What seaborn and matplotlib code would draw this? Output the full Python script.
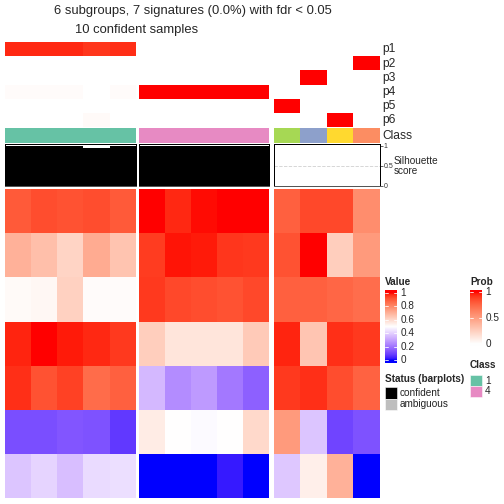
import numpy as np
import matplotlib
matplotlib.use("Agg")
import matplotlib.pyplot as plt
import seaborn as sns
from matplotlib.colors import ListedColormap
from matplotlib.patches import Rectangle

sns.set_theme(style="white")
plt.rcParams['font.family'] = ['Liberation Sans', 'DejaVu Sans']

# ---------------- data ----------------
title_line1 = "6 subgroups, 7 signatures (0.0%) with fdr < 0.05"
title_line2 = "10 confident samples"
prob_labels = ["p1", "p2", "p3", "p4", "p5", "p6"]

value_g1 = [
    [0.90, 0.925, 0.915, 0.925, 0.90],
    [0.70, 0.665, 0.61, 0.715, 0.655],
    [0.515, 0.52, 0.62, 0.51, 0.51],
    [0.98, 1.0, 0.985, 0.975, 0.955],
    [0.965, 0.915, 0.945, 0.865, 0.89],
    [0.12, 0.12, 0.135, 0.125, 0.075],
    [0.375, 0.41, 0.36, 0.425, 0.43],
]
value_g2 = [
    [1.0, 0.975, 0.995, 0.997, 1.0],
    [0.95, 0.99, 0.985, 0.96, 0.955],
    [0.955, 0.93, 0.925, 0.915, 0.93],
    [0.625, 0.57, 0.57, 0.57, 0.64],
    [0.35, 0.25, 0.285, 0.21, 0.16],
    [0.55, 0.5, 0.49, 0.5, 0.6],
    [0.0, 0.0, 0.0, 0.025, 0.0],
]
value_g3 = [
    [0.89, 0.93, 0.93, 0.79],
    [0.915, 1.0, 0.625, 0.76],
    [0.89, 0.89, 0.875, 0.86],
    [0.98, 0.65, 0.965, 0.955],
    [0.955, 0.965, 0.925, 0.885],
    [0.76, 0.375, 0.10, 0.125],
    [0.38, 0.54, 0.70, 0.0],
]
prob_g1 = [
    [0.95, 0.95, 0.95, 0.92, 0.94],
    [0, 0, 0, 0, 0],
    [0, 0, 0, 0, 0],
    [0.02, 0.02, 0.02, 0, 0.02],
    [0, 0, 0, 0, 0],
    [0, 0, 0, 0.03, 0],
]
prob_g2 = [
    [0, 0, 0, 0, 0],
    [0, 0, 0, 0, 0],
    [0, 0, 0, 0, 0],
    [1, 1, 1, 1, 1],
    [0, 0, 0, 0, 0],
    [0, 0, 0, 0, 0],
]
prob_g3 = [
    [0, 0, 0, 0],
    [0, 0, 0, 1],
    [0, 1, 0, 0],
    [0, 0, 0, 0],
    [1, 0, 0, 0],
    [0, 0, 1, 0],
]
class_g1 = [1, 1, 1, 1, 1]
class_g2 = [4, 4, 4, 4, 4]
class_g3 = [5, 3, 6, 2]
silhouette_g1 = [0.99, 0.99, 0.99, 0.94, 0.99]
silhouette_g2 = [0.99, 0.99, 0.99, 0.99, 0.99]
silhouette_g3 = [0, 0, 0, 0]
class_ids = [1, 2, 3, 4, 5, 6]
class_colors = ["#66C2A5", "#FC8D62", "#8DA0CB", "#E78AC3", "#A6D854", "#FFD92F"]
value_ticks = [0, 0.2, 0.4, 0.6, 0.8, 1]
prob_ticks = [0, 0.5, 1]
legend_classes = ["1", "4"]
status_labels = ["confident", "ambiguous"]
status_colors = ["black", "#BEBEBE"]

# ---------------- LAB colour interpolation ----------------
WP = np.array([0.95047, 1.0, 1.08883])
M = np.array([[0.4124, 0.3576, 0.1805], [0.2126, 0.7152, 0.0722], [0.0193, 0.1192, 0.9505]])
MINV = np.linalg.inv(M)


def srgb_to_lab(c):
    c = np.asarray(c, float)
    lin = np.where(c <= 0.04045, c / 12.92, ((c + 0.055) / 1.055) ** 2.4)
    t = (M @ lin) / WP
    f = np.where(t > 0.008856, np.cbrt(t), 7.787 * t + 16 / 116)
    return np.array([116 * f[1] - 16, 500 * (f[0] - f[1]), 200 * (f[1] - f[2])])


def lab_to_srgb(lab):
    L, a, b = lab
    fy = (L + 16) / 116
    f = np.array([fy + a / 500, fy, fy - b / 200])
    t = np.where(f ** 3 > 0.008856, f ** 3, (f - 16 / 116) / 7.787)
    lin = np.clip(MINV @ (t * WP), 0, 1)
    return np.where(lin <= 0.0031308, 12.92 * lin, 1.055 * lin ** (1 / 2.4) - 0.055)


def lab_cmap(stops, n=256):
    pos = np.array([s[0] for s in stops])
    labs = [srgb_to_lab(matplotlib.colors.to_rgb(s[1])) for s in stops]
    cols = []
    for x in np.linspace(0, 1, n):
        i = min(np.searchsorted(pos, x, side='right') - 1, len(pos) - 2)
        i = max(i, 0)
        f = (x - pos[i]) / (pos[i + 1] - pos[i])
        lab = labs[i] * (1 - f) + labs[i + 1] * f
        cols.append(np.clip(lab_to_srgb(lab), 0, 1))
    return ListedColormap(cols)


value_cmap = lab_cmap([(0, "#0000FF"), (0.5, "#FFFFFF"), (1, "#FF0000")])
prob_cmap = lab_cmap([(0, "#FFFFFF"), (1, "#FF0000")])
class_cmap = ListedColormap(class_colors)

# ---------------- layout ----------------
W = H = 504.0
fig = plt.figure(figsize=(7, 7), dpi=72)
fig.patch.set_facecolor("white")


def rect(x0, y0, x1, y1):
    return [x0 / W, 1 - y1 / H, (x1 - x0) / W, (y1 - y0) / H]


def ftext(x, y, s, **kw):
    fig.text(x / W, 1 - y / H, s, **kw)


groups_x = [(5, 135.7), (138.7, 268.7), (274, 379.7)]
values = [value_g1, value_g2, value_g3]
probs = [prob_g1, prob_g2, prob_g3]
classes = [class_g1, class_g2, class_g3]
sils = [silhouette_g1, silhouette_g2, silhouette_g3]

for gi, (x0, x1) in enumerate(groups_x):
    # probability rows
    ax = fig.add_axes(rect(x0, 42, x1, 127.3))
    sns.heatmap(np.array(probs[gi], float), ax=ax, cmap=prob_cmap, vmin=0, vmax=1,
                cbar=False, xticklabels=False, yticklabels=False)
    # class row
    ax = fig.add_axes(rect(x0, 128, x1, 143.3))
    sns.heatmap(np.array([classes[gi]], float), ax=ax, cmap=class_cmap,
                vmin=0.5, vmax=6.5, cbar=False, xticklabels=False, yticklabels=False)
    # silhouette
    ax = fig.add_axes(rect(x0, 143.7, x1, 186))
    n = len(sils[gi])
    ax.axhline(0.5, color="#D3D3D3", ls="--", lw=0.9, zorder=0)
    ax.bar(np.arange(n), sils[gi], width=1.0, color="black", edgecolor="none",
           linewidth=0, zorder=2)
    ax.set_xlim(-0.5, n - 0.5)
    ax.set_ylim(-0.01, 1.05)
    ax.set_xticks([])
    for name, sp in ax.spines.items():
        sp.set_visible(True)
        sp.set_color("#555555" if name == "bottom" else "black")
        sp.set_linewidth(1.0)
        sp.set_zorder(3)
    if gi == 2:
        ax.yaxis.tick_right()
        ax.set_yticks([0, 0.5, 1])
        ax.set_yticklabels(["0", "0.5", "1"], fontsize=7)
        ax.tick_params(axis="y", length=3, width=0.6, pad=1, colors="black", labelcolor="#333333")
    else:
        ax.set_yticks([])
    # main heatmap
    ax = fig.add_axes(rect(x0, 189, x1, 498.3))
    sns.heatmap(np.array(values[gi], float), ax=ax, cmap=value_cmap, vmin=0, vmax=1,
                cbar=False, xticklabels=False, yticklabels=False)

# row labels
for i, lab in enumerate(prob_labels):
    ftext(382, 49.3 + i * 14.2, lab, fontsize=12, va="center", ha="left")
ftext(382, 135.7, "Class", fontsize=12, va="center", ha="left")
ftext(394, 160.5, "Silhouette", fontsize=10, va="center", ha="left")
ftext(394, 170.5, "score", fontsize=10, va="center", ha="left")

# titles
ftext(193, 11, title_line1, fontsize=13, ha="center", va="center")
ftext(137, 29.5, title_line2, fontsize=13, ha="center", va="center")


def gradient_legend(x0, y0, x1, y1, cmap, ticks, labels):
    ax = fig.add_axes(rect(x0, y0, x1, y1))
    grad = np.linspace(-0.04, 1.04, 256)[:, None]
    ax.imshow(grad, aspect="auto", cmap=cmap, vmin=0, vmax=1, origin="lower",
              extent=(0, 1, -0.04, 1.04))
    for v in ticks:
        ax.plot([0, 0.22], [v, v], color="white", lw=0.8)
        ax.plot([0.78, 1], [v, v], color="white", lw=0.8)
        ax.text(1.3, v, labels[ticks.index(v)], transform=ax.get_yaxis_transform(),
                fontsize=10, va="center", ha="left")
    ax.set_xlim(0, 1)
    ax.set_ylim(-0.04, 1.04)
    ax.axis("off")


ftext(385, 282, "Value", fontsize=10, fontweight="bold", va="center", ha="left")
gradient_legend(385, 290, 397, 362.7, value_cmap, value_ticks,
                ["0", "0.2", "0.4", "0.6", "0.8", "1"])
ftext(470, 282, "Prob", fontsize=10, fontweight="bold", va="center", ha="left")
gradient_legend(470, 290, 482, 346, prob_cmap, prob_ticks, ["0", "0.5", "1"])

# class legend
ftext(470, 365, "Class", fontsize=10, fontweight="bold", va="center", ha="left")
for i, lab in enumerate(legend_classes):
    col = class_colors[class_ids.index(int(lab))]
    y = 375 + i * 11
    fig.add_artist(Rectangle((470 / W, 1 - (y + 10.5) / H), 12 / W, 10.5 / H,
                             transform=fig.transFigure, facecolor=col, edgecolor="white", lw=0.5))
    ftext(485, y + 5.5, lab, fontsize=10, va="center", ha="left")

# status legend
ftext(385, 379, "Status (barplots)", fontsize=10, fontweight="bold", va="center", ha="left")
for i, (lab, col) in enumerate(zip(status_labels, status_colors)):
    y = 387.3 + i * 11.4
    fig.add_artist(Rectangle((385 / W, 1 - (y + 11.2) / H), 11.5 / W, 11.2 / H,
                             transform=fig.transFigure, facecolor=col, edgecolor="white", lw=0.5))
    ftext(400, y + 5.6, lab, fontsize=10, va="center", ha="left", color="#222222")

fig.savefig("out.png", dpi=72, facecolor="white")
